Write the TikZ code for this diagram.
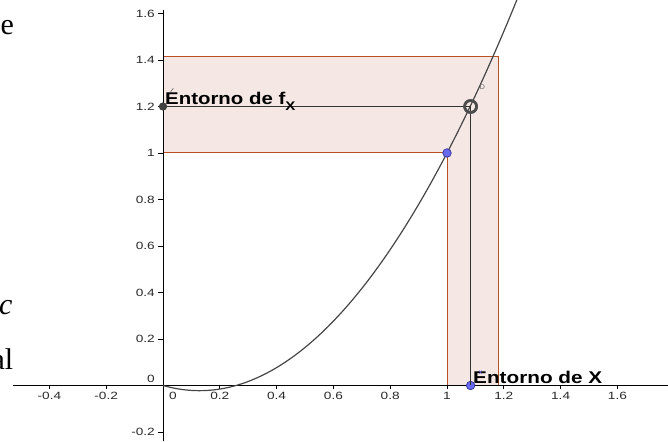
\documentclass[tikz,border=0pt]{standalone}
\usepackage{fontspec}
\setmainfont{Liberation Serif}
\newfontfamily\ggb{Liberation Sans}
\definecolor{bandfill}{RGB}{245,232,228}
\definecolor{banddraw}{RGB}{185,80,35}
\definecolor{ptblue}{RGB}{105,105,240}
\definecolor{ptblueline}{RGB}{50,50,150}
\definecolor{ticktxt}{RGB}{40,40,40}
\definecolor{curvecol}{RGB}{70,70,70}
\begin{document}
\begin{tikzpicture}[x=1pt,y=1pt,
  band/.style={fill=bandfill,draw=banddraw,line width=1pt},
  axisline/.style={draw=black,line width=0.9pt},
  tickline/.style={draw=black,line width=0.8pt},
  ticklab/.style={font=\ggb\fontsize{10.5}{10.5}\selectfont,text=ticktxt,inner sep=0pt},
  curveline/.style={draw=curvecol,line width=1.2pt},
  segline/.style={draw=black!80,line width=1pt},
  bluept/.style={circle,fill=ptblue,draw=ptblueline,line width=0.7pt,minimum size=8.5pt,inner sep=0pt},
  blackdot/.style={circle,fill=black!75,minimum size=8pt,inner sep=0pt},
  ringpt/.style={circle,draw=black!70,line width=2.6pt,minimum size=12pt,inner sep=0pt},
  biglab/.style={font=\ggb\bfseries\fontsize{17}{17}\selectfont,inner sep=0pt},
  doctext/.style={font=\fontsize{30}{30}\selectfont,inner sep=0pt}
]
\useasboundingbox (0,0) rectangle (668,441);
\clip (0,0) rectangle (668,441);
\begin{scope}[shift={(163,55.5)},x=284pt,y=232.5pt]
  % neighbourhood bands
  \filldraw[band] (0,1) -- (1,1) -- (1,0) -- (1.183,0) -- (1.183,1.417) -- (0,1.417) -- cycle;
  % axes
  \draw[axisline] (-0.528,0) -- (1.78,0);
  \draw[axisline] (0,-0.24) -- (0,1.615);
  % x ticks
  \foreach \u/\t [count=\i] in {-0.4/-0.4,-0.2/-0.2,0.2/0.2,0.4/0.4,0.6/0.6,0.8/0.8,1/1,1.2/1.2,1.4/1.4,1.6/1.6}{
    \draw[tickline] (\u,0) -- ++(0,-4pt);
    \node[ticklab] (xl\i) at ([yshift=-10.5pt]\u,0) {\scalebox{1.3}[1]{\t}};
  }
  % y ticks
  \foreach \v/\t [count=\i] in {-0.2/-0.2,0.2/0.2,0.4/0.4,0.6/0.6,0.8/0.8,1/1,1.2/1.2,1.4/1.4,1.6/1.6}{
    \draw[tickline] (0,\v) -- ++(-5pt,0);
    \node[ticklab,anchor=east] (yl\i) at ([xshift=-8pt]0,\v) {\scalebox{1.3}[1]{\t}};
  }
  % parabola
  \draw[curveline,domain=0:1.25,samples=100] plot (\x,{1.3459*\x*(\x-0.257)});
  % points
  \node[blackdot] (dotA) at (0,1.2) {};
  \node[ringpt] (ring) at (1.083,1.2) {};
  \node[bluept] (ptOne) at (1,1) {};
  \node[bluept] (ptX) at (1.083,0) {};
  \draw[segline] (dotA.center) -- (ring.center);
  \draw[segline] (ring.center) -- (ptX.center);
  \node[ringpt] (ring2) at (ring.center) {};
  \node[blackdot] (dotA2) at (dotA.center) {};
\end{scope}
% origin labels
\node[ticklab,anchor=east] (zy) at (155,62) {\scalebox{1.3}[1]{0}};
\node[ticklab] (zx) at (173,45) {\scalebox{1.3}[1]{0}};
% main labels
\node[biglab,anchor=base west] (lfx) at (165,336) {\scalebox{1.2}[1]{Entorno de f\raisebox{-6pt}{\fontsize{12.5}{12.5}\selectfont X}}};
\node[biglab,anchor=base west] (lX) at (473,57) {\scalebox{1.22}[1]{Entorno de X}};
% tiny point labels
\draw[black!60,line width=0.6pt] (170.7,349.3) -- (173.3,352.7);
\node[font=\ggb\fontsize{7}{7}\selectfont,text=ptblue,inner sep=0pt] (tx) at (480.5,68.5) {x};
\node[font=\ggb\fontsize{7}{7}\selectfont,text=black!60,inner sep=0pt] (td) at (482.5,353.5) {D};
% clipped document text on the left
\node[doctext,anchor=base west] (te) at (0.5,406) {e};
\node[doctext,anchor=base west] (tc) at (-1,126) {\itshape c};
\node[doctext,anchor=base east] (tal) at (13.5,71) {al};
\end{tikzpicture}
\end{document}
